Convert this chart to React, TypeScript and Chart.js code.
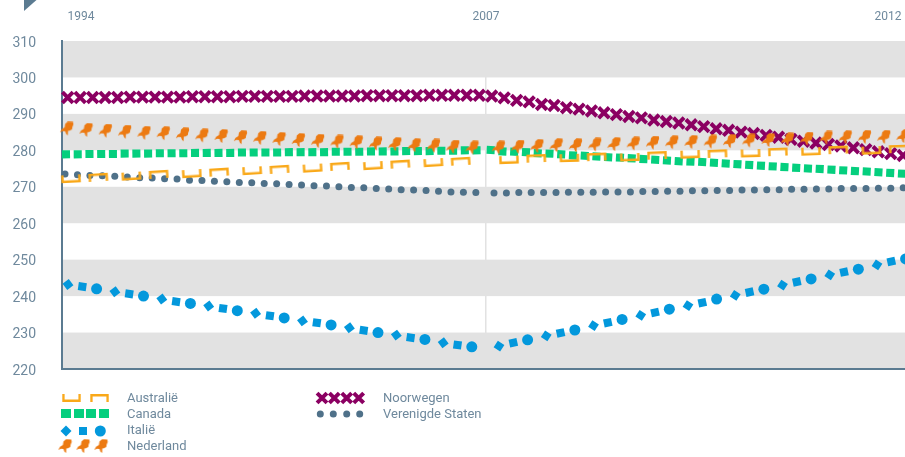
import { useEffect, useRef } from "react";
import { Chart, registerables } from "chart.js";
import { drawPoint } from "chart.js/helpers";

Chart.register(...registerables);

const yTicks = [310, 300, 290, 280, 270, 260, 250, 240, 230, 220];
const yearLabels = ["1994", "2007", "2012"];

const australie1 = [272.2, 272.6, 272.9, 273.4, 273.6, 274.0, 274.4, 274.8, 275.1, 275.6, 275.8, 276.2, 276.6, 277.0];
const australie2 = [277.4, 277.8, 277.9, 278.2, 278.1, 278.6, 278.9, 279.1, 279.2, 279.6, 279.7, 280.1, 280.0, 280.4];
const canada1 = [278.9, 278.9, 279.0, 279.0, 279.0, 279.1, 279.1, 279.1, 279.2, 279.2, 279.2, 279.3, 279.3, 279.3, 279.3, 279.4, 279.4, 279.4, 279.4, 279.5, 279.5, 279.5, 279.5, 279.6, 279.6, 279.6, 279.7, 279.7, 279.7, 279.8, 279.8, 279.8, 279.9, 279.9, 280.0, 280.0];
const canada2 = [280.1, 279.7, 279.6, 279.5, 279.2, 279.1, 278.9, 278.6, 278.5, 278.3, 278.1, 278.0, 277.8, 277.6, 277.4, 277.2, 277.0, 276.9, 276.8, 276.6, 276.4, 276.2, 276.0, 275.8, 275.6, 275.4, 275.2, 275.0, 274.9, 274.7, 274.5, 274.3, 274.2, 274.0, 273.8, 273.6];
const italie1 = [243.2, 242.6, 242.0, 241.2, 240.6, 240.0, 239.2, 238.5, 238.0, 237.3, 236.6, 236.0, 235.3, 234.6, 234.0, 233.2, 232.7, 232.1, 231.3, 230.6, 230.0, 229.3, 228.6, 228.1, 227.2, 226.6, 226.1];
const italie2 = [226.3, 227.2, 228.0, 229.1, 229.9, 230.7, 231.9, 232.7, 233.6, 234.7, 235.5, 236.4, 237.4, 238.2, 239.2, 240.2, 241.1, 241.9, 243.0, 243.9, 244.7, 245.8, 246.6, 247.4, 248.6, 249.5, 250.2];
const nederland1 = [285.9, 285.5, 285.3, 285.0, 284.7, 284.6, 284.3, 284.0, 283.8, 283.5, 283.3, 283.0, 282.7, 282.5, 282.3, 282.1, 281.8, 281.6, 281.3, 281.2, 280.9, 280.7];
const nederland2 = [280.7, 280.9, 281.1, 281.3, 281.3, 281.5, 281.6, 281.8, 282.0, 282.1, 282.2, 282.3, 282.4, 282.6, 282.7, 282.9, 283.1, 283.4, 283.5, 283.6, 283.6, 283.8];
const noorwegen1 = [294.5, 294.5, 294.5, 294.5, 294.5, 294.6, 294.6, 294.6, 294.6, 294.6, 294.7, 294.7, 294.7, 294.7, 294.8, 294.8, 294.8, 294.8, 294.8, 294.9, 294.9, 294.9, 294.9, 294.9, 295.0, 295.0, 295.0, 295.0, 295.0, 295.1, 295.1, 295.1, 295.1, 295.1];
const noorwegen2 = [294.9, 294.4, 293.7, 293.3, 292.6, 292.3, 291.7, 291.3, 290.8, 290.3, 289.8, 289.3, 288.9, 288.3, 287.9, 287.5, 287.0, 286.5, 285.9, 285.5, 285.0, 284.6, 284.1, 283.6, 283.0, 282.5, 282.0, 281.6, 281.2, 280.7, 280.2, 279.6, 279.1, 278.6];
const staten1 = [273.5, 273.3, 273.1, 273.0, 272.9, 272.7, 272.5, 272.4, 272.2, 272.1, 271.8, 271.7, 271.5, 271.4, 271.2, 271.1, 270.9, 270.8, 270.6, 270.5, 270.3, 270.2, 270.0, 269.8, 269.7, 269.5, 269.4, 269.2, 269.1, 269.0, 268.8, 268.6, 268.5, 268.4];
const staten2 = [268.3, 268.3, 268.4, 268.4, 268.4, 268.4, 268.5, 268.5, 268.5, 268.6, 268.6, 268.6, 268.7, 268.7, 268.8, 268.8, 268.9, 268.9, 269.0, 269.0, 269.1, 269.1, 269.2, 269.2, 269.3, 269.3, 269.4, 269.4, 269.5, 269.5, 269.5, 269.6, 269.6, 269.7];

const TEXT = "#6f899d";
const AXIS = "#5b7b91";
const BAND = "#e2e2e2";
const ORANGE = "#f9a818";
const GREEN = "#05cf7e";
const BLUE = "#0398dc";
const DUTCH = "#ec7a12";
const PURPLE = "#8b0062";
const SLATE = "#4f7189";
const FONT = "Roboto, 'Noto Sans', sans-serif";

const AXIS_SPAN = 843;
const AXIS_MID = 424;

// A run of evenly spaced marks along the axis.
const run = (vals: number[], start: number, step: number) =>
  vals.map((y, i) => ({ x: start + i * step, y }));
// Australian brackets alternate a short and a long gap.
const pairs = (vals: number[], start: number, period: number, inner: number) =>
  vals.map((y, i) => ({ x: start + Math.floor(i / 2) * period + (i % 2) * inner, y }));
// Italian marks repeat as diamond, square, circle.
const triples = (vals: number[], start: number, period: number) =>
  vals.map((y, i) => ({ x: start + Math.floor(i / 3) * period + (i % 3) * 14.3, y }));

function bracket(up: boolean): HTMLCanvasElement {
  const c = document.createElement("canvas");
  c.width = 20;
  c.height = 8;
  const g = c.getContext("2d")!;
  g.strokeStyle = ORANGE;
  g.lineWidth = 2.4;
  g.beginPath();
  if (up) {
    g.moveTo(1.5, 8);
    g.lineTo(1.5, 1.2);
    g.lineTo(18.5, 1.2);
    g.lineTo(18.5, 8);
  } else {
    g.moveTo(1.5, 0);
    g.lineTo(1.5, 6.8);
    g.lineTo(18.5, 6.8);
    g.lineTo(18.5, 0);
  }
  g.stroke();
  return c;
}

function dutchMap(): HTMLCanvasElement {
  const c = document.createElement("canvas");
  c.width = 15;
  c.height = 15;
  const g = c.getContext("2d")!;
  g.fillStyle = DUTCH;
  g.beginPath();
  g.moveTo(8.5, 0.3);
  g.lineTo(13.8, 0.5);
  g.lineTo(14.2, 3);
  g.lineTo(13.2, 5.5);
  g.lineTo(12.8, 8);
  g.lineTo(10.5, 9.2);
  g.lineTo(8.8, 9.6);
  g.lineTo(8.6, 14);
  g.lineTo(7, 12.8);
  g.lineTo(6, 10);
  g.lineTo(3.5, 9.8);
  g.lineTo(0.8, 11);
  g.lineTo(2.6, 7.8);
  g.lineTo(5.4, 6);
  g.lineTo(6, 2.6);
  g.closePath();
  g.fill();
  return c;
}

const ITALY_STYLES = ["rectRot", "rect", "circle"];

export default function App() {
  const ref = useRef<HTMLCanvasElement>(null);

  useEffect(() => {
    const up = bracket(true);
    const down = bracket(false);
    const map = dutchMap();

    const decor = {
      id: "decor",
      beforeDraw(chart: any) {
        const { ctx, chartArea: a, scales } = chart;
        ctx.save();
        ctx.fillStyle = BAND;
        for (let v = 220; v < 310; v += 20) {
          const top = scales.y.getPixelForValue(v + 10);
          const bottom = scales.y.getPixelForValue(v);
          ctx.fillRect(a.left, top, a.right - a.left, bottom - top);
        }
        ctx.fillStyle = AXIS;
        ctx.beginPath();
        ctx.moveTo(24, 0);
        ctx.lineTo(36.5, 0);
        ctx.lineTo(24, 11);
        ctx.closePath();
        ctx.fill();
        ctx.restore();
      },
      afterDraw(chart: any) {
        const { ctx } = chart;
        const sets = chart.data.datasets;
        const byLabel = (i: number) => sets[i].label;
        ctx.save();
        ctx.fillStyle = TEXT;
        ctx.font = `13px ${FONT}`;
        ctx.textBaseline = "middle";
        ctx.textAlign = "left";
        [399, 415, 431, 447].forEach((y, i) => ctx.fillText(byLabel(i), 127, y));
        [399, 415].forEach((y, i) => ctx.fillText(byLabel(i + 4), 383, y));

        ctx.drawImage(down, 62, 394, 19, 8);
        ctx.drawImage(up, 90, 394, 19, 8);
        ctx.fillStyle = GREEN;
        [61, 74, 86, 99].forEach((x) => ctx.fillRect(x, 409, 10, 9));
        ctx.fillStyle = BLUE;
        ctx.strokeStyle = BLUE;
        const pt = (pointStyle: any, radius: number, x: number, y: number, borderWidth = 0) =>
          drawPoint(ctx, { pointStyle, radius, rotation: 0, borderWidth }, x, y);
        pt("rectRot", 5.5, 66, 431);
        pt("rect", 5.7, 83, 431);
        pt("circle", 5.5, 100.3, 431);
        [65, 83, 101].forEach((x) => ctx.drawImage(map, x - 7.5, 439, 15, 15));
        ctx.strokeStyle = PURPLE;
        ctx.lineWidth = 4;
        [322, 334.3, 346.7, 358.7].forEach((x) => pt("crossRot", 7, x, 398, 4));
        ctx.fillStyle = SLATE;
        [320.3, 333.3, 346.7, 359.7].forEach((x) => pt("circle", 3.5, x, 414));
        ctx.restore();
      },
    };

    const base = { showLine: false, clip: false as any };
    const chart = new Chart(ref.current!, {
      type: "line",
      data: {
        datasets: [
          {
            ...base,
            label: "Australië",
            order: 1,
            data: [...pairs(australie1, 9, 60.4, 27.3), ...pairs(australie2, 447, 60.4, 27.3)],
            pointStyle: (c: any) => (c.dataIndex % 2 ? up : down),
            pointRotation: (c: any) => (c.dataIndex < 14 ? -3.5 : -2),
            pointRadius: 10,
          },
          {
            ...base,
            label: "Canada",
            order: 3,
            data: [...run(canada1, 4, 11.73), ...run(canada2, 428.7, 11.75)],
            pointStyle: "rect",
            pointRadius: 5.7,
            pointRotation: (c: any) => (c.dataIndex < 36 ? -0.5 : 3),
            pointBackgroundColor: GREEN,
            pointBorderWidth: 0,
          },
          {
            ...base,
            label: "Italië",
            order: 4,
            data: [...triples(italie1, 6, 46.9), ...triples(italie2, 437, 47.25)],
            pointStyle: (c: any) => ITALY_STYLES[c.dataIndex % 3],
            pointRadius: (c: any) => (c.dataIndex % 3 === 1 ? 5.7 : 5.5),
            pointRotation: (c: any) => (c.dataIndex < 27 ? 8 : -12),
            pointBackgroundColor: BLUE,
            pointBorderWidth: 0,
          },
          {
            ...base,
            label: "Nederland",
            order: 0,
            data: [...run(nederland1, 4.7, 19.3), ...run(nederland2, 436.3, 19.27)],
            pointStyle: map,
            pointRadius: 7.5,
          },
          {
            ...base,
            label: "Noorwegen",
            order: 2,
            data: [...run(noorwegen1, 5.7, 12.47), ...run(noorwegen2, 429.7, 12.47)],
            pointStyle: "crossRot",
            pointRadius: 7.5,
            pointBorderColor: PURPLE,
            pointBorderWidth: 4,
          },
          {
            ...base,
            label: "Verenigde Staten",
            order: 5,
            data: [...run(staten1, 3, 12.45), ...run(staten2, 432, 12.4)],
            pointStyle: "circle",
            pointRadius: 3.5,
            pointBackgroundColor: SLATE,
            pointBorderWidth: 0,
          },
        ],
      } as any,
      plugins: [decor],
      options: {
        animation: false,
        responsive: false,
        layout: { autoPadding: false, padding: { bottom: 88, left: 0, right: 0, top: 0 } },
        plugins: { legend: { display: false }, tooltip: { enabled: false } },
        events: [],
        scales: {
          x: {
            type: "linear",
            position: "top",
            min: 0,
            max: AXIS_SPAN,
            afterFit: (s: any) => {
              s.height = 41;
              s.paddingLeft = 0;
              s.paddingRight = 0;
              s.paddingTop = 0;
              s.paddingBottom = 0;
            },
            afterBuildTicks: (s: any) => {
              s.ticks = [{ value: 19 }, { value: AXIS_MID }, { value: 826 }];
            },
            border: { display: false },
            grid: {
              drawTicks: false,
              lineWidth: 1.5,
              color: (c: any) => (c.tick && c.tick.value === AXIS_MID ? BAND : "rgba(0,0,0,0)"),
            },
            ticks: {
              autoSkip: false,
              maxRotation: 0,
              padding: 17,
              color: TEXT,
              font: { family: FONT, size: 12 },
              callback: (_v: any, i: number) => yearLabels[i],
            },
          },
          y: {
            min: 220,
            max: 310,
            afterFit: (s: any) => {
              s.width = 62;
              s.paddingLeft = 0;
              s.paddingRight = 0;
              s.paddingTop = 0;
              s.paddingBottom = 0;
            },
            afterBuildTicks: (s: any) => {
              s.ticks = yTicks.map((value) => ({ value }));
            },
            border: { color: AXIS, width: 2 },
            grid: {
              drawTicks: false,
              lineWidth: 2,
              color: (c: any) => (c.tick && c.tick.value === 220 ? AXIS : "rgba(0,0,0,0)"),
            },
            ticks: {
              autoSkip: false,
              padding: 26,
              labelOffset: 2,
              color: TEXT,
              font: { family: FONT, size: 14 },
            },
          },
        },
      } as any,
    });
    return () => chart.destroy();
  }, []);

  return (
    <div style={{ position: "absolute", left: 0, top: 0, width: 905, height: 457, overflow: "hidden" }}>
      <canvas ref={ref} width={905} height={457} style={{ display: "block" }} />
    </div>
  );
}
